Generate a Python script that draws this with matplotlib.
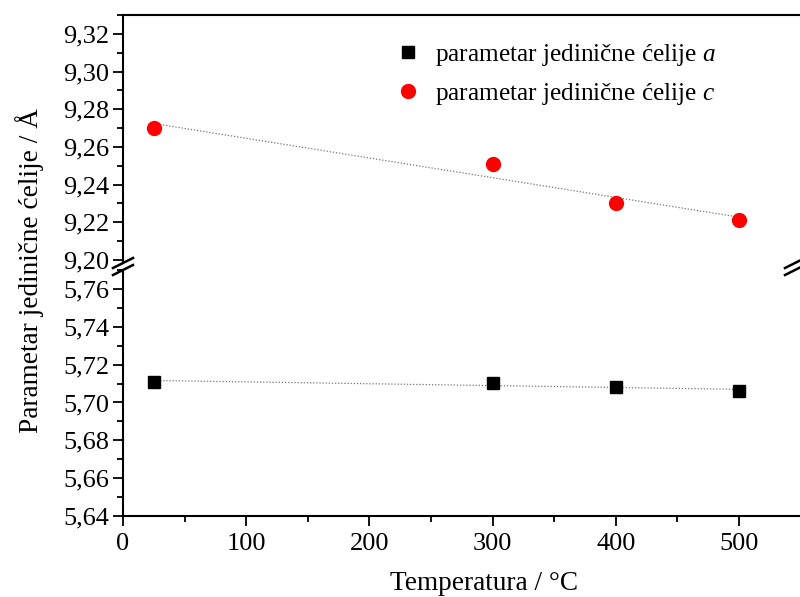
import numpy as np
import matplotlib
matplotlib.use('Agg')
from matplotlib import pyplot as plt
from matplotlib.ticker import MultipleLocator, FuncFormatter

plt.rcParams['font.family'] = ['Liberation Serif', 'DejaVu Serif']
plt.rcParams['mathtext.fontset'] = 'custom'
plt.rcParams['mathtext.it'] = 'Liberation Serif:italic'
plt.rcParams['mathtext.rm'] = 'Liberation Serif'

# data
temps = [25, 300, 400, 500]
param_a = [5.711, 5.7103, 5.7081, 5.706]
param_c = [9.270, 9.251, 9.230, 9.221]

label_a = 'parametar jedinične ćelije $\\it{a}$'
label_c = 'parametar jedinične ćelije $\\it{c}$'

W, H = 800, 597
fig = plt.figure(figsize=(8, 5.97), dpi=100)

left = 123 / W
width = (800.6 - 123) / W
ax_top = fig.add_axes([left, (H - 263) / H, width, (263 - 15) / H])
ax_bot = fig.add_axes([left, (H - 516) / H, width, (516 - 270) / H])

comma = FuncFormatter(lambda v, p: ('%.2f' % v).replace('.', ','))

# linear fits
xfit = np.array([25, 500])
ka, ba = np.polyfit(temps, param_a, 1)
kc, bc = np.polyfit(temps, param_c, 1)

ax_top.plot(xfit, kc * xfit + bc, linestyle=(0, (1, 1.5)), color='#777777', lw=0.9)
ax_top.plot(temps, param_c, 'o', color='#ff0000', markersize=10, label=label_c)
ax_bot.plot(xfit, ka * xfit + ba, linestyle=(0, (1, 1.5)), color='#777777', lw=0.9)
ax_bot.plot(temps, param_a, 's', color='black', markersize=8.5, label=label_a)

ax_top.set_ylim(9.1984, 9.330)
ax_bot.set_ylim(5.64, 5.770)
for ax in (ax_top, ax_bot):
    ax.set_xlim(0, 550)
    ax.yaxis.set_major_locator(MultipleLocator(0.02))
    ax.yaxis.set_minor_locator(MultipleLocator(0.01))
    ax.yaxis.set_major_formatter(comma)
    ax.spines['right'].set_visible(False)
    for s in ax.spines.values():
        s.set_linewidth(1.5)
    ax.tick_params(axis='y', which='major', direction='out', length=7, width=1.3, labelsize=19, pad=3)
    ax.tick_params(axis='y', which='minor', direction='out', length=4, width=1.3)

ax_top.spines['bottom'].set_visible(False)
ax_top.tick_params(axis='x', which='both', bottom=False, labelbottom=False)
ax_bot.spines['top'].set_visible(False)
ax_bot.xaxis.set_major_locator(MultipleLocator(100))
ax_bot.xaxis.set_minor_locator(MultipleLocator(50))
ax_bot.tick_params(axis='x', which='major', direction='out', length=7, width=1.3, labelsize=19, pad=5)
ax_bot.tick_params(axis='x', which='minor', direction='out', length=4, width=1.3)

# break marks
for xc in (123, 795):
    for yc in (263, 270):
        x0, x1 = (xc - 10) / W, (xc + 10) / W
        y0, y1 = (H - yc - 5) / H, (H - yc + 5) / H
        fig.add_artist(plt.Line2D([x0, x1], [y0, y1], transform=fig.transFigure, color='black', lw=1.8))

handles = [ax_bot.lines[1], ax_top.lines[1]]
fig.legend(handles, [label_a, label_c], loc='upper left', bbox_to_anchor=(395 / W, (H - 42) / H),
           frameon=False, fontsize=18.2, handlelength=1.0, handletextpad=0.6, labelspacing=0.5,
           borderaxespad=0, borderpad=0)

fig.text(484 / W, (H - 583) / H, 'Temperatura / °C', ha='center', va='center', fontsize=19.6)
fig.text(30 / W, (H - 271) / H, 'Parametar jedinične ćelije / Å', ha='center', va='center',
         rotation=90, fontsize=19.6)

fig.savefig('out.png', dpi=100)
